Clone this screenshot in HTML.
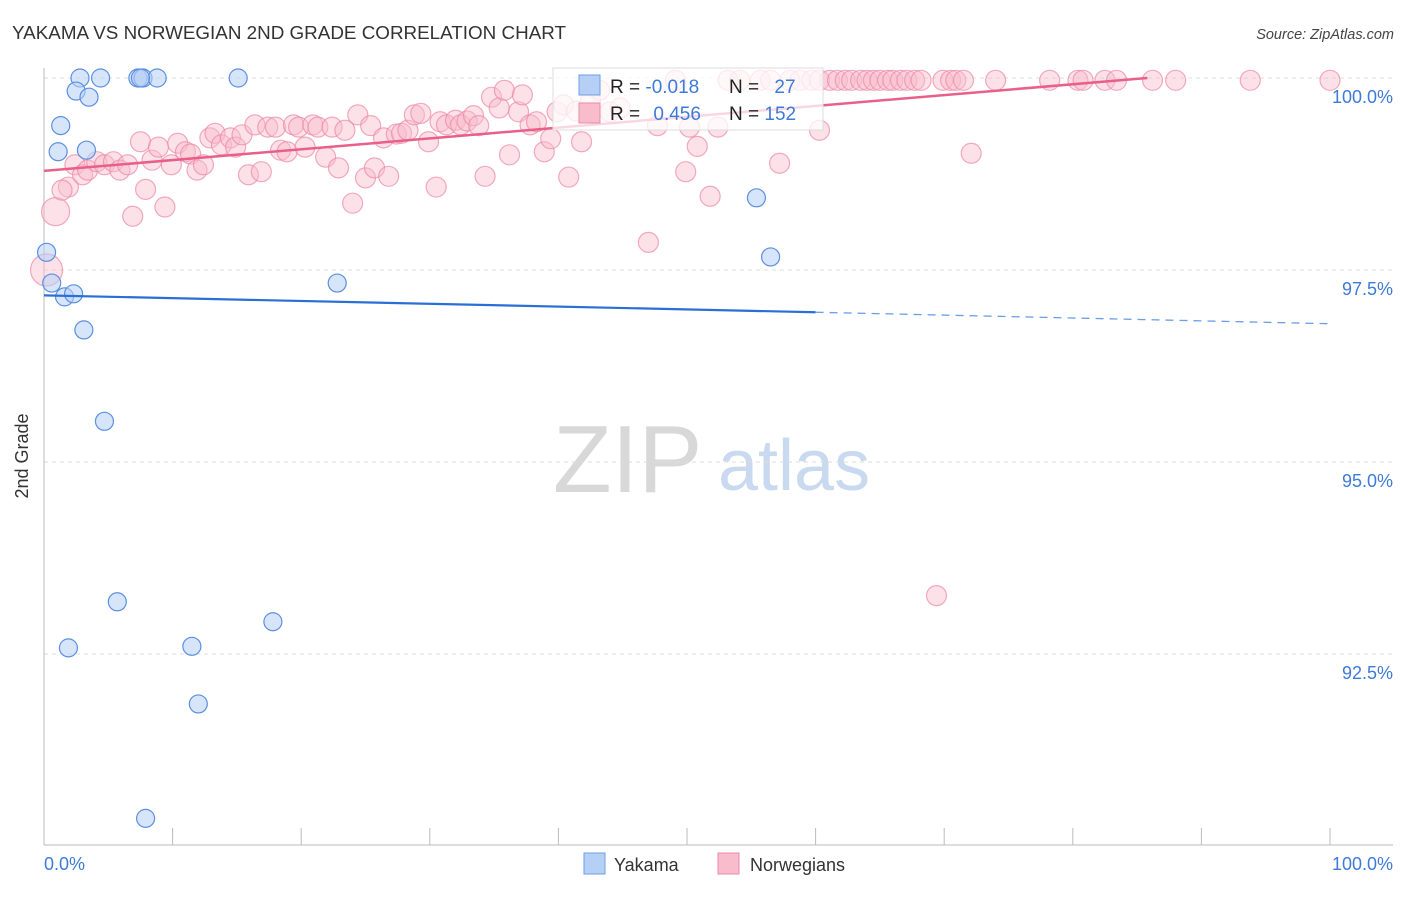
<!DOCTYPE html>
<html><head><meta charset="utf-8"><style>
body{margin:0;background:#fff;font-family:"Liberation Sans",sans-serif}
svg text{font-family:"Liberation Sans",sans-serif}
</style></head><body>
<svg id="chart" width="1406" height="892" viewBox="0 0 1406 892" xmlns="http://www.w3.org/2000/svg">
<text x="12" y="39" font-size="18" fill="#333" textLength="554" lengthAdjust="spacingAndGlyphs">YAKAMA VS NORWEGIAN 2ND GRADE CORRELATION CHART</text>
<text x="1394" y="39" font-size="14.5" fill="#444" font-style="italic" text-anchor="end">Source: ZipAtlas.com</text>
<g>
<text x="553" y="492" font-size="96" font-family="Liberation Serif" fill="#d8d8d8">ZIP</text>
<text x="718" y="490" font-size="72" fill="#c9d9ef">atlas</text>
</g>
<g id="grid"></g>
<line x1="44" y1="68" x2="44" y2="845" stroke="#bbb"/>
<line x1="44" y1="845" x2="1393" y2="845" stroke="#bbb"/>
<g id="xticks"></g>
<text x="28" y="456" font-size="18" fill="#333" text-anchor="middle" transform="rotate(-90 28 456)">2nd Grade</text>
<text x="44" y="870" font-size="18" fill="#3d7bd9">0.0%</text>
<text x="1393" y="870" font-size="18" fill="#3d7bd9" text-anchor="end">100.0%</text>
<g id="pts"></g>
<g id="lines"></g>
<g>
<rect x="553" y="68" width="270" height="62" fill="#fff" fill-opacity="0.75" stroke="#ddd"/>
<rect x="579" y="75" width="21" height="20" fill="#b6d0f5" stroke="#6c9ee6"/>
<rect x="579" y="103" width="21" height="20" fill="#f8bccd" stroke="#ec88a6"/>
<text x="610" y="93" font-size="19" fill="#222">R = <tspan fill="#3d7bd9">-0.018</tspan></text>
<text x="729" y="93" font-size="19" fill="#222">N = <tspan fill="#3d7bd9" dx="10">27</tspan></text>
<text x="610" y="120" font-size="19" fill="#222">R = <tspan fill="#3d7bd9" dx="8">0.456</tspan></text>
<text x="729" y="120" font-size="19" fill="#222">N = <tspan fill="#3d7bd9">152</tspan></text>
</g>
<g>
<rect x="584" y="853" width="21" height="21" fill="#b6d0f5" stroke="#6c9ee6"/>
<text x="614" y="871" font-size="18" fill="#333">Yakama</text>
<rect x="718" y="853" width="21" height="21" fill="#f8bccd" stroke="#ec88a6"/>
<text x="750" y="871" font-size="18" fill="#333">Norwegians</text>
</g>
</svg>
<script>
const yTicks=[100,97.5,95,92.5];
const yTickLabels=["100.0%","97.5%","95.0%","92.5%"];
const xTicks=[0,10,20,30,40,50,60,70,80,90,100];
const yakamaX=[0.2,0.6,1.6,2.3,2.8,4.4,2.5,3.5,1.3,1.1,3.3,3.1,4.7,5.7,1.9,11.5,12.0,7.9,7.3,7.7,8.8,15.1,22.8,17.8,55.4,56.5,7.5];
const yakamaY=[97.73,97.33,97.15,97.19,100,100,99.83,99.75,99.38,99.04,99.06,96.72,95.53,93.18,92.58,92.60,91.85,90.36,100,100,100,100,97.33,92.92,98.44,97.67,100];
const norX=[0.9,0.2,1.9,1.4,2.4,3.0,3.4,4.1,4.7,5.4,5.9,6.5,7.5,7.9,6.9,8.4,8.9,9.4,9.9,10.4,11.0,11.4,11.9,12.4,12.9,13.3,13.8,14.5,14.9,15.4,15.9,16.4,16.9,17.4,18.0,18.4,18.9,19.4,19.8,20.3,20.9,21.3,21.9,22.4,22.9,23.4,24.0,24.4,25.0,25.4,25.7,26.4,26.8,27.4,27.8,28.3,28.8,29.3,29.9,30.5,30.8,31.3,32.0,32.4,32.9,33.4,33.8,34.3,34.8,35.4,35.8,36.2,36.9,37.2,37.8,38.3,38.9,39.4,39.9,40.4,40.8,41.4,41.8,42.5,43.2,44.0,44.8,47.0,47.7,49.1,49.9,50.2,50.8,51.8,52.4,53.2,54.1,55.7,56.5,57.2,58.0,58.8,59.7,60.3,60.3,61.1,61.7,62.3,62.8,63.5,64.0,64.5,65.0,65.6,66.0,66.6,67.1,67.7,68.2,69.4,69.9,70.5,70.9,71.5,72.1,74.0,78.2,80.4,80.8,82.5,83.4,86.2,88.0,93.8,100];
const norY=[98.26,97.50,98.58,98.54,98.87,98.74,98.80,98.91,98.87,98.91,98.80,98.87,99.17,98.55,98.20,98.93,99.10,98.32,98.87,99.15,99.04,99.01,98.80,98.87,99.22,99.28,99.13,99.22,99.10,99.26,98.74,99.39,98.78,99.36,99.36,99.06,99.04,99.39,99.36,99.10,99.39,99.36,98.97,99.36,98.83,99.32,98.37,99.52,98.70,99.38,98.83,99.22,98.72,99.27,99.28,99.32,99.52,99.54,99.17,98.58,99.43,99.39,99.45,99.39,99.44,99.51,99.38,98.72,99.75,99.61,99.84,99.00,99.56,99.78,99.39,99.43,99.04,99.21,99.56,99.65,98.71,99.57,99.17,99.71,99.84,99.56,99.61,97.86,99.38,99.97,98.78,99.36,99.11,98.46,99.36,99.97,99.97,99.97,99.97,98.89,99.97,99.97,99.97,99.32,99.97,99.97,99.97,99.97,99.97,99.97,99.97,99.97,99.97,99.97,99.97,99.97,99.97,99.97,99.97,93.26,99.97,99.97,99.97,99.97,99.02,99.97,99.97,99.97,99.97,99.97,99.97,99.97,99.97,99.97,99.97];
const norTrendX=[0,85.8];
const norTrendY=[98.79,100];
const yakTrendX=[0,60,100];
const yakTrendY=[97.17,96.95,96.80];
const NS="http://www.w3.org/2000/svg";
const xs=v=>44+v/100*1286;
const ys=v=>78+(100-v)*76.8;
function mk(tag,attrs,parent){const e=document.createElementNS(NS,tag);for(const k in attrs)e.setAttribute(k,attrs[k]);parent.appendChild(e);return e;}
const grid=document.getElementById('grid');
yTicks.forEach((t,i)=>{
 const l=mk('line',{x1:44,x2:1393,y1:ys(t),y2:ys(t),stroke:'#ddd','stroke-dasharray':'4,4'},grid);
 
 
 const tx=mk('text',{x:1393,y:ys(t)+25,'font-size':18,fill:'#3d7bd9','text-anchor':'end'},grid);
 tx.textContent=yTickLabels[i];
 
 
});
const xt=document.getElementById('xticks');
xTicks.forEach(t=>{
 const l=mk('line',{x1:xs(t),x2:xs(t),y1:828,y2:845,stroke:'#bbb'},xt);
 
 
});
const pts=document.getElementById('pts');
norX.forEach((x,i)=>{
 const r=i===0?14:(i===1?16:10);
 const c=mk('circle',{cx:xs(x),cy:ys(norY[i]),r:r,fill:'#f8bccd','fill-opacity':0.45,stroke:'#ec88a6','stroke-opacity':0.7,'stroke-width':1.2},pts);
 
 
});
yakamaX.forEach((x,i)=>{
 const c=mk('circle',{cx:xs(x),cy:ys(yakamaY[i]),r:9,fill:'#b6d0f5','fill-opacity':0.55,stroke:'#5b90e0','stroke-width':1.2},pts);
 
 
});
const lines=document.getElementById('lines');
const pl=mk('line',{x1:xs(norTrendX[0]),y1:ys(norTrendY[0]),x2:xs(norTrendX[1]),y2:ys(norTrendY[1]),stroke:'#e8608a','stroke-width':2.5},lines);


const bl=mk('line',{x1:xs(yakTrendX[0]),y1:ys(yakTrendY[0]),x2:xs(yakTrendX[1]),y2:ys(yakTrendY[1]),stroke:'#2a6fd6','stroke-width':2.2},lines);


const bd=mk('line',{x1:xs(yakTrendX[1]),y1:ys(yakTrendY[1]),x2:xs(yakTrendX[2]),y2:ys(yakTrendY[2]),stroke:'#6c9ee6','stroke-width':1.3,'stroke-dasharray':'8,6'},lines);


</script>
</body></html>
